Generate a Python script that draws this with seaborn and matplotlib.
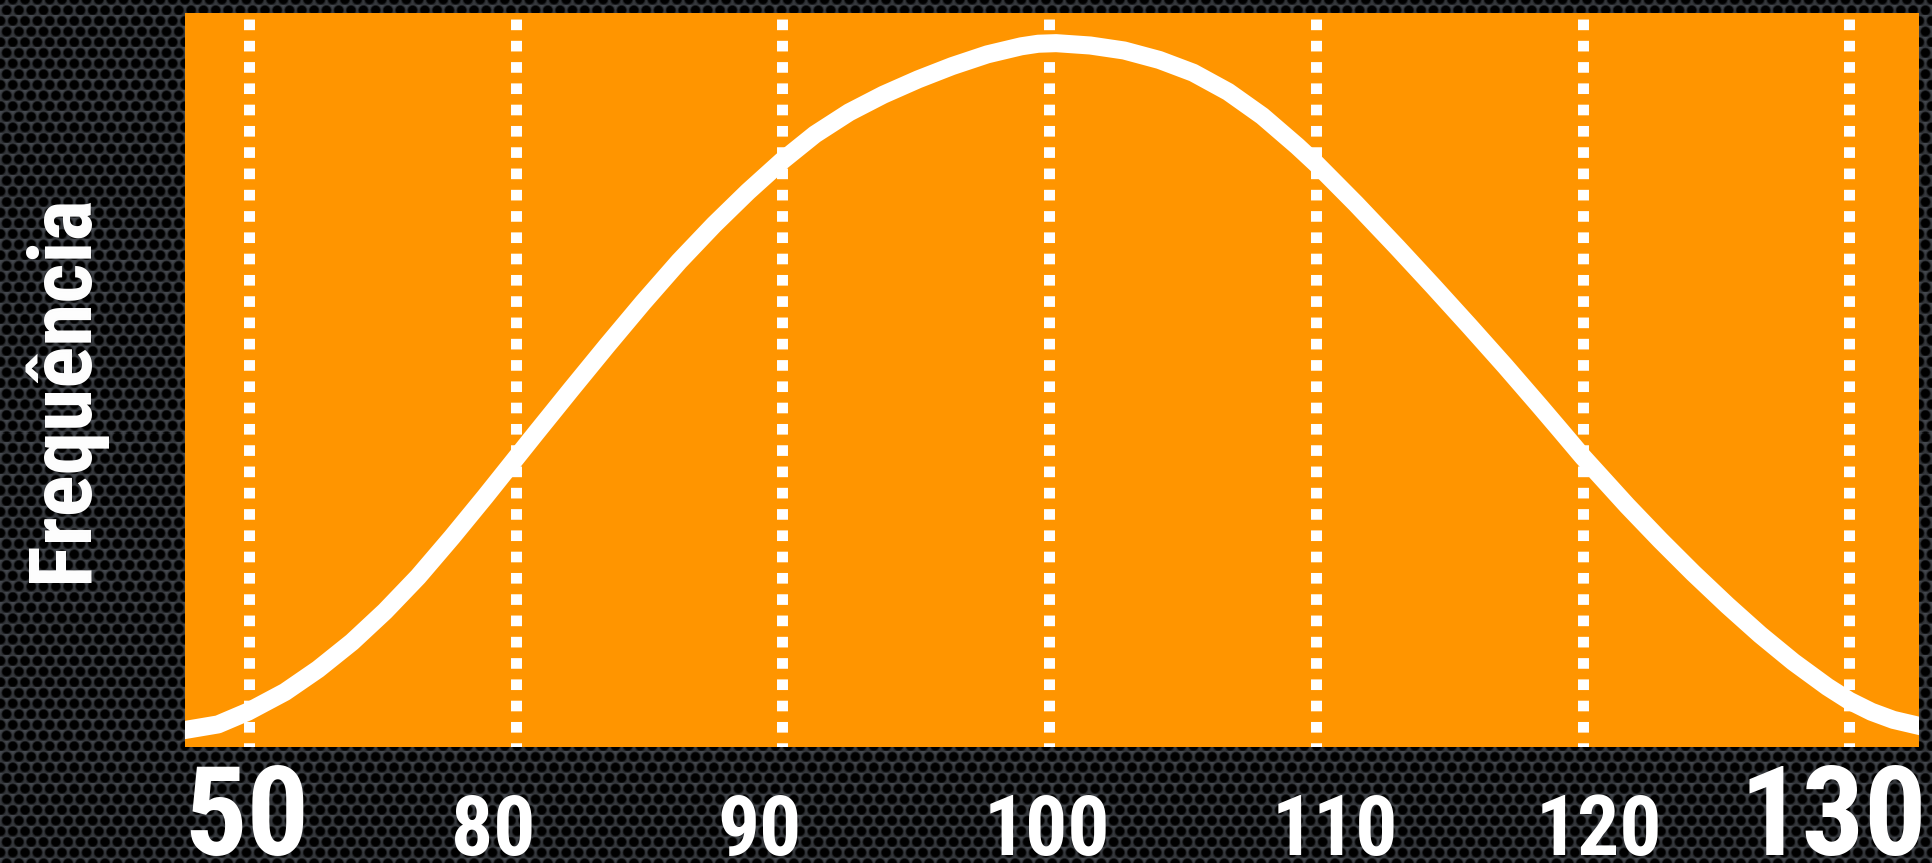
import numpy as np
import pandas as pd
import seaborn as sns
import matplotlib
matplotlib.use("Agg")
import matplotlib.pyplot as plt
from matplotlib import font_manager

# Curve (x in the axis units, y as % of the plot height)
curve_x = [67.60, 68.84, 69.96, 71.35, 72.59, 73.86, 75.10, 76.34, 77.61, 78.85,
           79.97, 80.76, 81.36, 82.07, 83.42, 84.78, 86.13, 87.44, 88.71, 89.99,
           91.22, 92.50, 93.78, 95.09, 96.36, 97.68, 98.95, 99.59, 100.26, 101.54,
           102.81, 104.13, 105.40, 106.71, 107.99, 109.30, 110.01, 111.51, 113.05,
           114.40, 115.75, 117.10, 118.41, 119.16, 120.02, 121.67, 122.91, 124.15,
           125.43, 126.66, 127.90, 129.18, 130.00, 130.83, 131.65, 132.59]
curve_y = [2.32, 3.08, 4.81, 7.50, 10.60, 14.30, 18.50, 23.20, 28.60, 34.10,
           39.20, 42.80, 45.50, 48.70, 54.70, 60.60, 66.20, 71.20, 75.70, 79.90,
           83.50, 86.50, 88.90, 91.00, 92.80, 94.40, 95.50, 95.85, 95.93, 95.61,
           94.93, 93.64, 91.90, 89.30, 86.00, 81.90, 79.50, 74.00, 68.10,
           62.80, 57.40, 51.90, 46.40, 43.20, 39.50, 32.90, 28.20, 23.70,
           19.30, 15.30, 11.60, 8.20, 6.30, 4.80, 3.70, 2.90]

# Dotted vertical guides and the (slightly offset) labels under them
grid_positions = [70, 80, 90, 100, 110, 120, 130]
tick_positions = [69.9, 79.15, 89.15, 99.9, 110.7, 120.6, 129.4]
tick_labels = ["50", "80", "90", "100", "110", "120", "130"]
big_labels = ["50", "130"]

y_label = "Frequência"

ORANGE = "#FF9500"

# pick a condensed bold face if one is installed
installed = {f.name for f in font_manager.fontManager.ttflist}
narrow = [n for n in ["Liberation Sans Narrow", "Roboto Condensed",
                      "DejaVu Sans Condensed", "Open Sans Condensed"] if n in installed]
if narrow:
    FONT = [narrow[0], "DejaVu Sans"]
    big_size, small_size, ylab_size = 89, 60, 63
else:
    FONT = ["Liberation Sans", "DejaVu Sans"]
    big_size, small_size, ylab_size = 80, 54, 53

W, H, DPI = 1933, 863, 100
fig = plt.figure(figsize=(W / DPI, H / DPI), dpi=DPI)
fig.patch.set_facecolor("#2b2e33")

# perforated dark metal backdrop
yy, xx = np.mgrid[0:H, 0:W].astype(float)
px, py = 12.3, 10.65
row = np.round(yy / py)
shift = (row % 2) * px / 2
dx = (xx - shift) - np.round((xx - shift) / px) * px
dy = yy - row * py
d = np.hypot(dx, dy)
r = 4.6
hole = np.clip((r + 0.8 - d) / 1.6, 0, 1)
mesh = 0.16 + 0.09 * np.clip((d - r) / 2.2, 0, 1) + 0.03 * np.clip(-dy / 4, -1, 1)
val = mesh * (1 - hole)
tex = np.dstack([val * 0.95, val * 1.0, val * 1.08])
bg = fig.add_axes([0, 0, 1, 1], zorder=-5)
bg.imshow(np.clip(tex, 0, 1), aspect="auto", interpolation="nearest")
bg.set_axis_off()

ax = fig.add_axes([0.0957, 0.1344, 0.8969, 0.8502])
ax.set_facecolor(ORANGE)
for s in ax.spines.values():
    s.set_visible(False)

df = pd.DataFrame({"x": curve_x, "y": curve_y})
sns.lineplot(data=df, x="x", y="y", color="white", linewidth=13, sort=False,
             ax=ax, zorder=3, solid_joinstyle="round")

# dotted guides, drawn from the top down so the dots start at the top edge
for g in grid_positions:
    ax.axvline(g, ymin=1, ymax=0, color="white", linewidth=7.9,
               linestyle=(1.39, (0.97, 0.97)), zorder=2)

ax.set_xlim(67.6, 132.6)
ax.set_ylim(0, 100)
ax.set_xticks([])
ax.set_yticks([])
ax.set_xticks(tick_positions, tick_labels, minor=True)
ax.tick_params(axis="x", which="minor", length=0, pad=78, colors="white")
for lab in ax.get_xticklabels(minor=True):
    lab.set_fontsize(big_size if lab.get_text() in big_labels else small_size)
    lab.set_fontweight("bold")
    lab.set_family(FONT)
    lab.set_verticalalignment("baseline")
ax.set_xlabel("")
ax.set_ylabel("")

fig.text(87 / W, 1 - 388 / H, y_label, rotation=90, rotation_mode="anchor",
         ha="center", va="baseline", color="white", fontsize=ylab_size,
         fontweight="bold", family=FONT)

fig.savefig("out.png", dpi=DPI, facecolor=fig.get_facecolor())
